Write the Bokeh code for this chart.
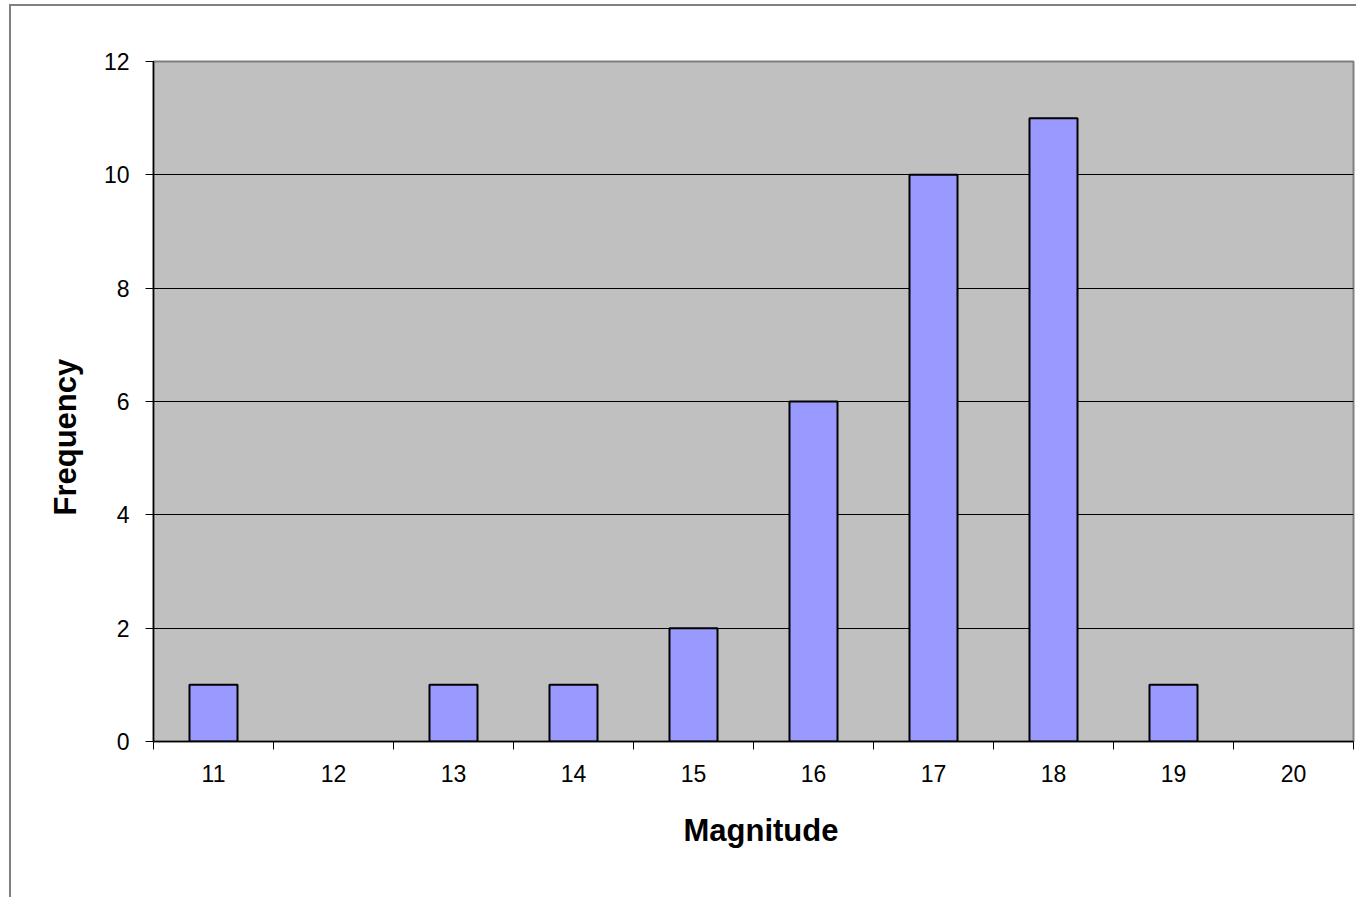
from bokeh.plotting import figure
from bokeh.models import FixedTicker, Title, Range1d, ColumnDataSource
from bokeh.embed import file_html
from bokeh.resources import INLINE

# ---- data ----
categories = ["11", "12", "13", "14", "15", "16", "17", "18", "19", "20"]
frequency = [1, 0, 1, 1, 2, 6, 10, 11, 1, 0]
y_ticks = [0, 2, 4, 6, 8, 10, 12]
x_title = "Magnitude"
y_title = "Frequency"

FONT = "Liberation Sans"

x_vals = [int(c) for c in categories]
bounds = [x - 0.5 for x in x_vals] + [x_vals[-1] + 0.5]

src = ColumnDataSource(dict(
    x=[x for x, f in zip(x_vals, frequency) if f > 0],
    top=[f for f in frequency if f > 0],
))

p = figure(width=1347, height=893, output_backend="svg", toolbar_location=None,
           x_range=Range1d(bounds[0], bounds[-1]), y_range=Range1d(y_ticks[0], y_ticks[-1]),
           min_border_left=142, min_border_right=5, min_border_top=55, min_border_bottom=158)
p.styles = {"margin-left": "9px", "margin-top": "4px",
            "border-left": "2px solid #808080", "border-top": "2px solid #808080"}
p.background_fill_color = "#C0C0C0"
p.border_fill_color = "white"
p.outline_line_color = "#808080"
p.outline_line_width = 2

# grid
p.xgrid.visible = False
p.ygrid.ticker = FixedTicker(ticks=y_ticks)
p.ygrid.grid_line_color = "black"
p.ygrid.grid_line_width = 1

# bars
p.vbar(x="x", top="top", width=0.4, source=src, fill_color="#9999FF",
       line_color="black", line_width=2)

# x axis
xa = p.xaxis[0]
xa.ticker = FixedTicker(ticks=x_vals, minor_ticks=bounds)
xa.major_tick_line_color = None
xa.minor_tick_line_color = "black"
xa.minor_tick_out = 8
xa.minor_tick_in = 0
xa.axis_line_color = "black"
xa.axis_line_width = 1.5
xa.major_label_text_font = FONT
xa.major_label_text_font_size = "23px"
xa.major_label_text_color = "black"
xa.major_label_standoff = 15

# y axis
ya = p.yaxis[0]
ya.ticker = FixedTicker(ticks=y_ticks)
ya.major_tick_out = 8
ya.major_tick_in = 0
ya.major_tick_line_color = "black"
ya.minor_tick_line_color = None
ya.axis_line_color = "black"
ya.axis_line_width = 1.5
ya.major_label_text_font = FONT
ya.major_label_text_font_size = "23px"
ya.major_label_text_color = "black"
ya.major_label_standoff = 16

# axis titles
p.add_layout(Title(text=x_title, align="left", offset=530, standoff=52,
                   text_font=FONT, text_font_size="31px", text_font_style="bold",
                   text_color="black"), "below")
p.add_layout(Title(text=y_title, align="left", offset=226, standoff=35,
                   text_font=FONT, text_font_size="31px", text_font_style="bold",
                   text_color="black"), "left")

open("out.html", "w").write(file_html(p, INLINE))
